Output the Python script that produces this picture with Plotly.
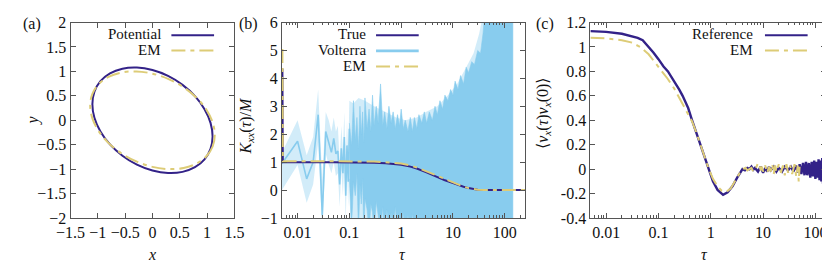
import math
import plotly.graph_objects as go

# ---------------- Panel (a): trajectories ----------------
pot_x = [1.1, 1.0625, 0.9526, 0.7778, 0.55, 0.2847, 0.0, -0.2847, -0.55, -0.7778, -0.9526, -1.0625,
         -1.1, -1.0625, -0.9526, -0.7778, -0.55, -0.2847, 0.0, 0.2847, 0.55, 0.7778, 0.9526, 1.0625, 1.1]
pot_y = [-0.330, -0.585, -0.800, -0.961, -1.056, -1.079, -1.028, -0.908, -0.725, -0.494, -0.228, 0.053,
         0.330, 0.585, 0.800, 0.961, 1.056, 1.079, 1.028, 0.908, 0.725, 0.494, 0.228, -0.053, -0.330]
em_a_x = [1.14, 1.1012, 0.9873, 0.8061, 0.57, 0.2951, 0.0, -0.2951, -0.57, -0.8061, -0.9873, -1.1012,
          -1.14, -1.1012, -0.9873, -0.8061, -0.57, -0.2951, 0.0, 0.2951, 0.57, 0.8061, 0.9873, 1.1012, 1.14]
em_a_y = [-0.301, -0.537, -0.737, -0.887, -0.976, -0.999, -0.954, -0.843, -0.676, -0.462, -0.216, 0.044,
          0.301, 0.537, 0.737, 0.887, 0.976, 0.999, 0.954, 0.843, 0.676, 0.462, 0.216, -0.044, -0.301]

# ---------------- Panel (b): memory kernel ----------------
true_tau = [0.0051, 0.0052, 0.05, 0.1, 0.2, 0.3, 0.5, 0.7, 1, 1.5, 2, 3, 4, 5, 7, 10, 13, 16, 20, 25, 30, 40, 60, 250]
true_val = [4.35, 1.0, 1.0, 0.998, 0.99, 0.98, 0.96, 0.94, 0.91, 0.84, 0.77, 0.64, 0.54, 0.46, 0.35, 0.25,
            0.17, 0.12, 0.07, 0.035, 0.015, 0.0, 0.0, 0.0]
em_b_val = [5.05, 1.03, 1.03, 1.03, 1.025, 1.02, 1.0, 0.98, 0.95, 0.88, 0.81, 0.68, 0.58, 0.5, 0.38, 0.27,
            0.18, 0.12, 0.07, 0.03, 0.01, 0.0, 0.0, 0.0]

volt_tau = [0.005, 0.01, 0.015, 0.02, 0.025, 0.03, 0.035, 0.04, 0.045, 0.05,
            0.055, 0.06, 0.065, 0.07, 0.075, 0.08, 0.085, 0.09, 0.095, 0.1]
volt_val = [0.95, 1.75, 0.4, 1.0, 2.7, -0.9, 2.1, 1.7, 1.35, 1.85,
            1.3, 1.4, 0.2, 1.5, 0.6, 1.9, -0.2, 1.6, 0.3, 2.2]

band_tau = volt_tau + [0.12, 0.15, 0.2, 0.3, 0.5, 0.8, 1.2, 2, 3, 5, 8, 12, 18, 25, 32, 40, 143]
band_hi = [1.35, 2.5, 1.25, 1.9, 3.6, 0.4, 2.8, 2.5, 2.1, 2.6, 2.1, 2.3, 1.0, 2.3, 1.4, 2.8, 0.7, 2.5, 1.2, 3.2,
           3.1, 3.3, 3.2, 3.0, 2.8, 2.6, 2.5, 2.6, 2.8, 3.0, 3.4, 3.8, 4.4, 4.9, 5.6, 6.5, 6.5]
band_lo = [0.0, 0.9, -0.45, 0.2, 1.7, -1.5, 1.3, 0.9, 0.6, 1.0, 0.5, 0.6, -0.6, 0.7, -0.2, 1.0, -1.2, 0.7, -0.6, 1.2,
           -1.5, -1.5, -1.5, -1.5, -1.5, -1.5, -1.5, -1.5, -1.5, -1.5, -1.5, -1.5, -1.5, -1.5, -1.5, -1.5, -1.5]

dense_tau = [0.10, 0.11, 0.12, 0.13, 0.14, 0.15, 0.16, 0.17, 0.18, 0.19, 0.20, 0.22, 0.24, 0.26, 0.28, 0.30,
             0.33, 0.36, 0.40, 0.44, 0.48, 0.53, 0.58, 0.64, 0.70, 0.77, 0.85, 0.93, 1.0, 1.1, 1.2, 1.35, 1.5,
             1.65, 1.8, 2.0, 2.2, 2.5, 2.8, 3.1, 3.5, 4.0, 4.5, 5.0, 5.6, 6.3, 7.0, 8.0, 9.0, 10, 11, 12.5, 14,
             16, 18, 20, 23, 26, 30, 34, 38, 42, 50, 143]
dense_hi = [2.4, 1.6, 3.2, 1.8, 2.6, 1.5, 3.0, 2.0, 2.8, 1.7, 3.3, 2.2, 2.9, 2.1, 3.4, 2.3,
            3.0, 2.4, 3.8, 2.3, 2.8, 2.2, 3.0, 2.4, 2.8, 2.2, 2.7, 2.3, 2.9, 2.2, 2.5, 2.1, 2.6,
            2.1, 2.6, 2.2, 2.7, 2.4, 2.8, 2.4, 2.8, 2.5, 3.0, 2.7, 3.2, 2.9, 3.4, 3.2, 3.6, 3.4, 3.9, 3.6, 4.1,
            3.8, 4.4, 4.2, 4.6, 4.5, 5.0, 4.9, 5.6, 6.5, 6.5, 6.5]
dense_lo = [0.4, -1.5, 0.3, -0.2, 0.6, -1.5, 0.2, -0.5, 0.4, -1.5, -0.3, -0.7, -1.5, -0.5, -0.8, -1.5,
            -0.4, -0.9, -1.5, -0.6, -1.5, -0.7, -1.5, -0.8, -1.5, -0.6, -1.5, -0.9, -1.5, -0.8, -1.5, -0.9, -1.5,
            -0.85, -1.5, -1.5, -1.5, -1.5, -1.5, -1.5, -1.5, -1.5, -1.5, -1.5, -1.5, -1.5, -1.5, -1.5, -1.5, -1.5,
            -1.5, -1.5, -1.5, -1.5, -1.5, -1.5, -1.5, -1.5, -1.5, -1.5, -1.5, -1.5, -1.5, -1.5]

# ---------------- Panel (c): velocity autocorrelation ----------------
ref_tau = [0.005, 0.01, 0.02, 0.03, 0.04, 0.05, 0.065, 0.08, 0.1, 0.125, 0.152, 0.2, 0.25, 0.29, 0.37, 0.44,
           0.53, 0.63, 0.75, 0.905, 1.1, 1.35, 1.72, 2.1, 2.6, 3.2, 4.04,
           4.5, 5, 5.5, 6, 6.5, 7, 8, 9, 10, 11, 12, 13, 14, 16, 18, 20, 23, 26, 30, 34, 38, 42, 46, 50,
           54, 58, 62, 66, 70, 75, 80, 85, 90, 95, 100, 105, 110, 115, 120, 125, 130, 135, 140, 144, 146, 148, 150]
ref_val = [1.13, 1.124, 1.108, 1.092, 1.075, 1.055, 1.0, 0.955, 0.9, 0.84, 0.8, 0.72, 0.65, 0.6, 0.5, 0.4,
           0.3, 0.2, 0.1, 0.0, -0.1, -0.17, -0.21, -0.19, -0.14, -0.07, 0.0,
           -0.01, 0.01, 0.0, 0.02, -0.005, 0.01, -0.02, 0.02, -0.03, 0.01, -0.02, 0.02, -0.01, 0.02, -0.02, 0.01,
           -0.02, 0.02, -0.01, 0.02, -0.02, 0.03, -0.03, 0.04,
           -0.04, 0.05, -0.05, 0.06, -0.05, 0.05, -0.07, 0.06, -0.06, 0.07, -0.08, 0.06, -0.07, 0.08, -0.09, 0.07,
           -0.1, 0.09, -0.12, 0.27, -0.15, 0.1, -0.05]
em_c_tau = [0.005, 0.01, 0.02, 0.03, 0.045, 0.065, 0.08, 0.1, 0.15, 0.2, 0.28, 0.38, 0.44, 0.53, 0.63, 0.75,
            0.9, 1.1, 1.35, 1.6, 2.0, 2.4, 3.0, 3.6, 4.2,
            4.6, 5, 5.5, 6, 6.5, 7, 7.5, 8, 8.5, 9, 9.5, 10, 11, 12, 13, 14, 15, 16, 17, 18, 20, 22, 24, 26,
            28, 30, 33, 36, 40, 43, 46, 48, 50]
em_c_val = [1.075, 1.07, 1.055, 1.038, 1.0, 0.94, 0.89, 0.84, 0.74, 0.66, 0.55, 0.44, 0.39, 0.3, 0.2, 0.1,
            0.01, -0.08, -0.14, -0.175, -0.185, -0.16, -0.09, -0.03, 0.0,
            0.01, -0.01, 0.0, 0.01, -0.02, 0.0, 0.02, 0.05, 0.03, -0.01, 0.02, -0.02, 0.03, -0.03, 0.02, -0.02,
            0.04, -0.04, 0.03, -0.02, 0.04, -0.03, 0.03, -0.05, 0.04, -0.03, 0.03, -0.04, 0.04, -0.06, 0.03,
            -0.1, 0.02]

# ---------------- styling ----------------
W, H = 830, 262
DARK = "#332288"
SAND = "#DDCC77"
CYAN = "#88CCEE"
DASH = "14px,5px,4px,5px"
FONT = "Liberation Serif, DejaVu Serif, serif"
FS = 16
AX = "#555555"

def px_x(p):
    return p / W

def px_y(p):
    return 1 - p / H

y_dom = [px_y(216), px_y(7)]

fig = go.Figure()

# (a)
fig.add_trace(go.Scatter(x=pot_x, y=pot_y, mode="lines", line=dict(color=DARK, width=2, shape="spline"),
                         xaxis="x", yaxis="y", showlegend=False))
fig.add_trace(go.Scatter(x=em_a_x, y=em_a_y, mode="lines", line=dict(color=SAND, width=2, dash=DASH, shape="spline"),
                         xaxis="x", yaxis="y", showlegend=False))

# (b)
fig.add_trace(go.Scatter(x=band_tau + band_tau[::-1], y=band_hi + band_lo[::-1], fill="toself",
                         fillcolor="rgba(136,204,238,0.38)", line=dict(width=0), mode="lines",
                         xaxis="x2", yaxis="y2", showlegend=False, hoverinfo="skip"))
fig.add_trace(go.Scatter(x=dense_tau + dense_tau[::-1], y=dense_hi + dense_lo[::-1], fill="toself",
                         fillcolor=CYAN, line=dict(width=0.6, color=CYAN), mode="lines",
                         xaxis="x2", yaxis="y2", showlegend=False))
fig.add_trace(go.Scatter(x=volt_tau, y=volt_val, mode="lines", line=dict(color=CYAN, width=1.6),
                         xaxis="x2", yaxis="y2", showlegend=False))
fig.add_trace(go.Scatter(x=true_tau, y=true_val, mode="lines", line=dict(color=DARK, width=2),
                         xaxis="x2", yaxis="y2", showlegend=False))
fig.add_trace(go.Scatter(x=true_tau, y=em_b_val, mode="lines", line=dict(color=SAND, width=2, dash=DASH),
                         xaxis="x2", yaxis="y2", showlegend=False))

# (c)
fig.add_trace(go.Scatter(x=ref_tau, y=ref_val, mode="lines", line=dict(color=DARK, width=2.4),
                         xaxis="x3", yaxis="y3", showlegend=False))
fig.add_trace(go.Scatter(x=em_c_tau, y=em_c_val, mode="lines", line=dict(color=SAND, width=2, dash=DASH),
                         xaxis="x3", yaxis="y3", showlegend=False))

tickfont = dict(family=FONT, size=FS, color="#111111")
common = dict(showline=True, linecolor=AX, linewidth=1, mirror="ticks", ticks="inside", ticklen=5,
              tickcolor=AX, tickfont=tickfont, showgrid=False, zeroline=False, ticklabeloverflow="allow")

log_major = [0.01, 0.1, 1, 10, 100]
log_text = ["0.01", "0.1", "1", "10", "100"]
log_minor = [m * 10 ** e for e in range(-3, 3) for m in range(2, 10)]

minor = dict(ticks="inside", ticklen=2.5, tickcolor=AX, tickmode="array", tickvals=log_minor, showgrid=False)

fig.update_layout(
    width=W, height=H, margin=dict(l=0, r=0, t=0, b=0),
    paper_bgcolor="white", plot_bgcolor="white",
    font=dict(family=FONT, size=FS, color="#111111"),
    xaxis=dict(domain=[px_x(49), px_x(218)], range=[-1.5, 1.5], tickvals=[-1.5, -1, -0.5, 0, 0.5, 1, 1.5],
               ticktext=["\u22121.5", "\u22121", "\u22120.5", "0", "0.5", "1", "1.5"], anchor="y", **common),
    yaxis=dict(domain=y_dom, range=[-2, 2], tickvals=[-2, -1.5, -1, -0.5, 0, 0.5, 1, 1.5, 2],
               ticktext=["\u22122", "\u22121.5", "\u22121", "\u22120.5", "0", "0.5", "1", "1.5", "2"],
               anchor="x", **common),
    xaxis2=dict(domain=[px_x(267), px_x(518)], type="log", range=[math.log10(0.005), math.log10(250)],
                tickvals=log_major, ticktext=log_text, minor=minor, anchor="y2", **common),
    yaxis2=dict(domain=y_dom, range=[-1, 6], tickvals=[-1, 0, 1, 2, 3, 4, 5, 6],
                ticktext=["\u22121", "0", "1", "2", "3", "4", "5", "6"], anchor="x2", **common),
    xaxis3=dict(domain=[px_x(585), px_x(828)], type="log", range=[math.log10(0.005), math.log10(160)],
                tickvals=log_major, ticktext=log_text, minor=minor, anchor="y3", **common),
    yaxis3=dict(domain=y_dom, range=[-0.4, 1.2], tickvals=[-0.4, -0.2, 0, 0.2, 0.4, 0.6, 0.8, 1.0, 1.2],
                ticktext=["-0.4", "-0.2", "0", "0.2", "0.4", "0.6", "0.8", "1", "1.2"], anchor="x3", **common),
)

ann = []
shapes = []

def text(x, y, s, xanchor="center", angle=0, size=FS):
    ann.append(dict(x=px_x(x), y=px_y(y), xref="paper", yref="paper", text=s, showarrow=False,
                    xanchor=xanchor, yanchor="middle", textangle=angle, borderpad=0,
                    font=dict(family=FONT, size=size, color="#111111")))

def key(x0, x1, y, color, width, dash="solid"):
    shapes.append(dict(type="line", xref="paper", yref="paper", x0=px_x(x0), x1=px_x(x1), y0=px_y(y), y1=px_y(y),
                       line=dict(color=color, width=width, dash=dash)))

# panel labels
text(9, 9, "(a)")
text(232, 9, "(b)")
text(538, 9, "(c)")

# axis titles
text(133.5, 255, "<i>x</i>")
text(10, 112, "<i>y</i>", angle=-90)
text(391, 255, "<i>τ</i>")
text(230, 118, "<i>K</i><sub><i>xx</i></sub>(<i>τ</i>)/<i>M</i>", angle=-90)
text(703, 255, "<i>τ</i>")
text(536, 104, "⟨<i>v</i><sub><i>x</i></sub>(<i>τ</i>)<i>v</i><sub><i>x</i></sub>(0)⟩", angle=-90)

# legends
LF = 15
text(143, 19.5, "Potential", xanchor="right", size=LF)
key(153, 197, 20.5, DARK, 2)
text(143, 36.5, "EM", xanchor="right", size=LF)
key(153, 197, 37, SAND, 2, DASH)

text(355, 19.5, "True", xanchor="right", size=LF)
key(364, 408, 20.5, DARK, 2)
text(355, 36.5, "Volterra", xanchor="right", size=LF)
key(364, 408, 37.3, CYAN, 2.6)
text(355, 53.5, "EM", xanchor="right", size=LF)
key(364, 408, 54, SAND, 2, DASH)

text(754, 19.5, "Reference", xanchor="right", size=LF)
key(765, 809, 20.5, DARK, 2)
text(754, 36.5, "EM", xanchor="right", size=LF)
key(765, 809, 37, SAND, 2, DASH)

fig.update_layout(annotations=ann, shapes=shapes)
fig.write_html("out.html")
